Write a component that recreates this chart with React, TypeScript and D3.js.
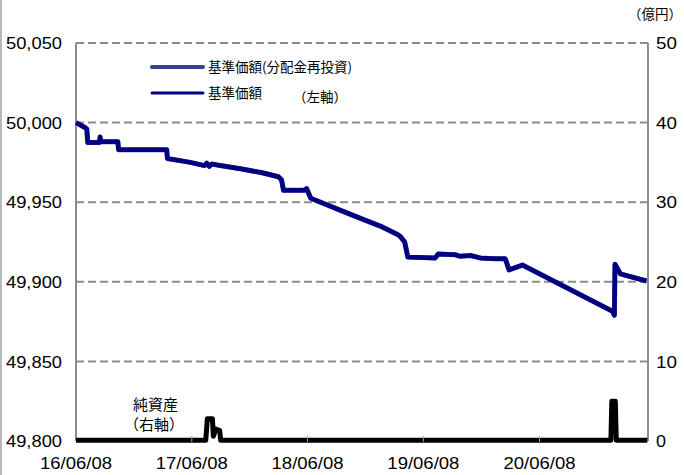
import * as d3 from "d3";

// 基準価額 (left axis, 円)
const navPoints: [string, number][] = [
  ["2016-06-08", 50000],
  ["2016-07-06", 49996.9],
  ["2016-07-12", 49996],
  ["2016-07-15", 49987.5],
  ["2016-08-21", 49987.5],
  ["2016-08-23", 49991],
  ["2016-08-25", 49988],
  ["2016-10-18", 49988],
  ["2016-10-20", 49983],
  ["2017-03-21", 49983],
  ["2017-03-23", 49977.5],
  ["2017-06-03", 49975],
  ["2017-07-18", 49973],
  ["2017-07-25", 49974.5],
  ["2017-08-02", 49972.5],
  ["2017-08-10", 49974],
  ["2017-09-06", 49973],
  ["2017-11-08", 49971],
  ["2018-01-16", 49968.5],
  ["2018-03-08", 49966],
  ["2018-03-18", 49964],
  ["2018-03-24", 49957.5],
  ["2018-05-28", 49957.5],
  ["2018-06-05", 49958.5],
  ["2018-06-18", 49952.5],
  ["2018-09-18", 49945],
  ["2018-11-20", 49940],
  ["2019-01-23", 49935],
  ["2019-03-20", 49929.5],
  ["2019-03-27", 49928.5],
  ["2019-04-10", 49925],
  ["2019-04-20", 49915.5],
  ["2019-07-15", 49915],
  ["2019-07-25", 49917.5],
  ["2019-09-16", 49917],
  ["2019-10-02", 49916],
  ["2019-11-03", 49916.5],
  ["2019-12-04", 49915],
  ["2020-01-21", 49914.5],
  ["2020-02-21", 49914.5],
  ["2020-03-04", 49907.5],
  ["2020-04-15", 49910.5],
  ["2021-01-24", 49881.5],
  ["2021-01-30", 49879],
  ["2021-02-01", 49911],
  ["2021-02-18", 49905],
  ["2021-05-11", 49900.5],
];

// 純資産 (right axis, 億円)
const assetPoints: [string, number][] = [
  ["2016-06-08", 0.1],
  ["2017-07-22", 0.1],
  ["2017-07-27", 2.8],
  ["2017-08-12", 2.8],
  ["2017-08-15", 0.6],
  ["2017-08-23", 1.5],
  ["2017-09-04", 1.3],
  ["2017-09-07", 0.1],
  ["2021-01-19", 0.1],
  ["2021-01-22", 5.0],
  ["2021-02-02", 5.0],
  ["2021-02-05", 0.1],
  ["2021-05-14", 0.1],
];

const xTicks = ["2016-06-08", "2017-06-08", "2018-06-08", "2019-06-08", "2020-06-08"];
const leftTicks = [49800, 49850, 49900, 49950, 50000, 50050];
const rightTicks = [0, 10, 20, 30, 40, 50];

const W = 684;
const H = 475;
const left = 76;
const right = 648;
const top = 43;
const bottom = 441;

const parse = d3.timeParse("%Y-%m-%d");
const fmtDate = d3.timeFormat("%y/%m/%d");
const fmtNum = d3.format(",");

const numFont = "'Liberation Sans', Arial, sans-serif";
const jpFont = "'Noto Sans CJK JP', sans-serif";

export default function App() {
  const x = d3
    .scaleTime()
    .domain([parse("2016-06-08")!, parse("2021-05-16")!])
    .range([left, right]);
  const yL = d3.scaleLinear().domain([49800, 50050]).range([bottom, top]);
  const yR = d3.scaleLinear().domain([0, 50]).range([bottom, top]);

  const navLine = d3
    .line<[string, number]>()
    .x((d) => x(parse(d[0])!))
    .y((d) => yL(d[1]));
  const assetLine = d3
    .line<[string, number]>()
    .x((d) => x(parse(d[0])!))
    .y((d) => yR(d[1]));

  return (
    <>
      <style>{`body{margin:0}`}</style>
      <svg width={W} height={H} style={{ display: "block", background: "#fff" }}>
        <line x1={1} x2={1} y1={0} y2={H} stroke="#a0a0a0" strokeWidth={1.5} />

        {/* grid */}
        {leftTicks.slice(1).map((t) => (
          <line
            key={t}
            x1={left}
            x2={right}
            y1={yL(t)}
            y2={yL(t)}
            stroke="#8c8c8c"
            strokeWidth={2}
            strokeDasharray="8,4"
          />
        ))}
        <line x1={left} x2={left} y1={top} y2={bottom} stroke="#8c8c8c" strokeWidth={2} />
        <line x1={right} x2={right} y1={top} y2={bottom} stroke="#8c8c8c" strokeWidth={2} />

        {/* 純資産 */}
        <path
          d={assetLine(assetPoints)!}
          fill="none"
          stroke="#000"
          strokeWidth={5}
          strokeLinejoin="round"
        />
        {xTicks.slice(1).map((t) => (
          <line
            key={t}
            x1={x(parse(t)!)}
            x2={x(parse(t)!)}
            y1={bottom - 5}
            y2={bottom + 1}
            stroke="#9a9a9a"
            strokeWidth={1}
          />
        ))}

        {/* 基準価額 */}
        <path
          d={navLine(navPoints)!}
          fill="none"
          stroke="#3a3d9c"
          strokeWidth={5}
          strokeLinejoin="round"
        />
        <path
          d={navLine(navPoints)!}
          fill="none"
          stroke="#000080"
          strokeWidth={4.5}
          strokeLinejoin="round"
        />

        {/* left axis labels */}
        {leftTicks.map((t) => (
          <text
            key={t}
            x={62}
            y={yL(t)}
            dy="0.36em"
            textAnchor="end"
            fontFamily={numFont}
            fontSize={17}
            textLength={56}
            lengthAdjust="spacingAndGlyphs"
            fill="#000"
          >
            {fmtNum(t)}
          </text>
        ))}
        {/* right axis labels */}
        {rightTicks.map((t) => (
          <text
            key={t}
            x={656}
            y={yR(t)}
            dy="0.36em"
            textAnchor="start"
            fontFamily={numFont}
            fontSize={17}
            textLength={t === 0 ? 10 : 21}
            lengthAdjust="spacingAndGlyphs"
            fill="#000"
          >
            {t}
          </text>
        ))}
        <text x={682} y={19} textAnchor="end" fontFamily={jpFont} fontSize={13.5}>
          （億円）
        </text>

        {/* x labels */}
        {xTicks.map((t) => (
          <text
            key={t}
            x={x(parse(t)!) - 36}
            y={463}
            dy="0.36em"
            textAnchor="start"
            fontFamily={numFont}
            fontSize={17}
            textLength={72}
            lengthAdjust="spacingAndGlyphs"
          >
            {fmtDate(parse(t)!)}
          </text>
        ))}

        {/* legend */}
        <line x1={152} x2={203} y1={67} y2={67} stroke="#3a3d9c" strokeWidth={4} strokeLinecap="round" />
        <text x={208} y={67} dy="0.36em" fontFamily={jpFont} fontSize={13.5}>
          基準価額(分配金再投資)
        </text>
        <line x1={152} x2={203} y1={93} y2={93} stroke="#000080" strokeWidth={3} strokeLinecap="round" />
        <text x={208} y={93} dy="0.36em" fontFamily={jpFont} fontSize={13.5}>
          基準価額
        </text>
        <text x={293} y={97} dy="0.36em" fontFamily={jpFont} fontSize={13.5}>
          （左軸）
        </text>

        <text x={133} y={405} dy="0.36em" fontFamily={jpFont} fontSize={15}>
          純資産
        </text>
        <text x={124} y={425} dy="0.36em" fontFamily={jpFont} fontSize={15}>
          （右軸）
        </text>
      </svg>
    </>
  );
}
